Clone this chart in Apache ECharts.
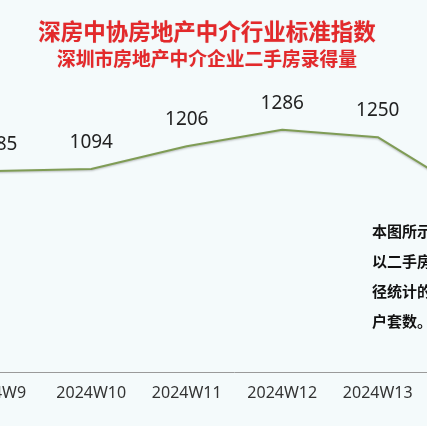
<!DOCTYPE html>
<html>
<head>
<meta charset="utf-8">
<script src="https://cdn.jsdelivr.net/npm/echarts@6/dist/echarts.min.js"></script>
<style>
html,body{margin:0;padding:0;background:#f4fafb;overflow:hidden;width:427px;height:426px;position:relative;}
#c{position:absolute;left:-52px;top:0;width:573px;height:426px;}
</style>
</head>
<body>
<div id="c"></div>
<script>
const titleText = '深房中协房地产中介行业标准指数';
const subtitleText = '深圳市房地产中介企业二手房录得量';
const categories = ['2024W9','2024W10','2024W11','2024W12','2024W13','2024W14'];
const values = [1085, 1094, 1206, 1286, 1250, 963];
const noteLines = ['本图所示', '以二手房', '径统计的', '户套数。'];

const OFF = 52; // container shift so the visible window matches the cropped reference
const chart = echarts.init(document.getElementById('c'));
const noteGraphics = noteLines.map((t, i) => ({
  type: 'text',
  left: 372 + OFF,
  top: 224 + i * 30,
  style: { text: t, font: 'bold 15px "Noto Sans CJK SC"', fill: '#111' }
}));
chart.setOption({
  backgroundColor: '#f4fafb',
  animation: false,
  title: [
    { text: titleText, left: 202 + OFF, top: 15.5, textAlign: 'center',
      textStyle: { fontFamily: 'Noto Sans CJK SC', fontWeight: 'bold', fontSize: 22.5, color: '#e3292b',
        textShadowColor: 'rgba(150,0,0,0.25)', textShadowBlur: 1 } },
    { text: subtitleText, left: 202 + OFF, top: 44.5, textAlign: 'center',
      textStyle: { fontFamily: 'Noto Sans CJK SC', fontWeight: 'bold', fontSize: 18.75, color: '#e3292b',
        textShadowColor: 'rgba(150,0,0,0.25)', textShadowBlur: 1 } }
  ],
  grid: { left: 0, right: 0, top: 86, bottom: 53.5 },
  xAxis: {
    type: 'category',
    data: categories,
    axisLine: { lineStyle: { color: '#9a9a9a', width: 1 } },
    axisTick: { length: 5, lineStyle: { color: '#9a9a9a' } },
    axisLabel: { interval: 0, fontFamily: 'Noto Sans', fontSize: 16, color: '#333', margin: 13 }
  },
  yAxis: { type: 'value', min: 100, max: 1500, show: false, splitLine: { show: false } },
  series: [{
    type: 'line',
    data: values,
    symbol: 'circle',
    symbolSize: 0,
    itemStyle: { color: '#7f9c55' },
    lineStyle: { color: '#7f9c55', width: 2, shadowColor: 'rgba(0,0,0,0.25)', shadowBlur: 2, shadowOffsetY: 1 },
    label: { show: true, position: 'top', distance: 17, fontFamily: 'Noto Sans', fontSize: 19, color: '#222' }
  }],
  graphic: noteGraphics
});
</script>
</body>
</html>
